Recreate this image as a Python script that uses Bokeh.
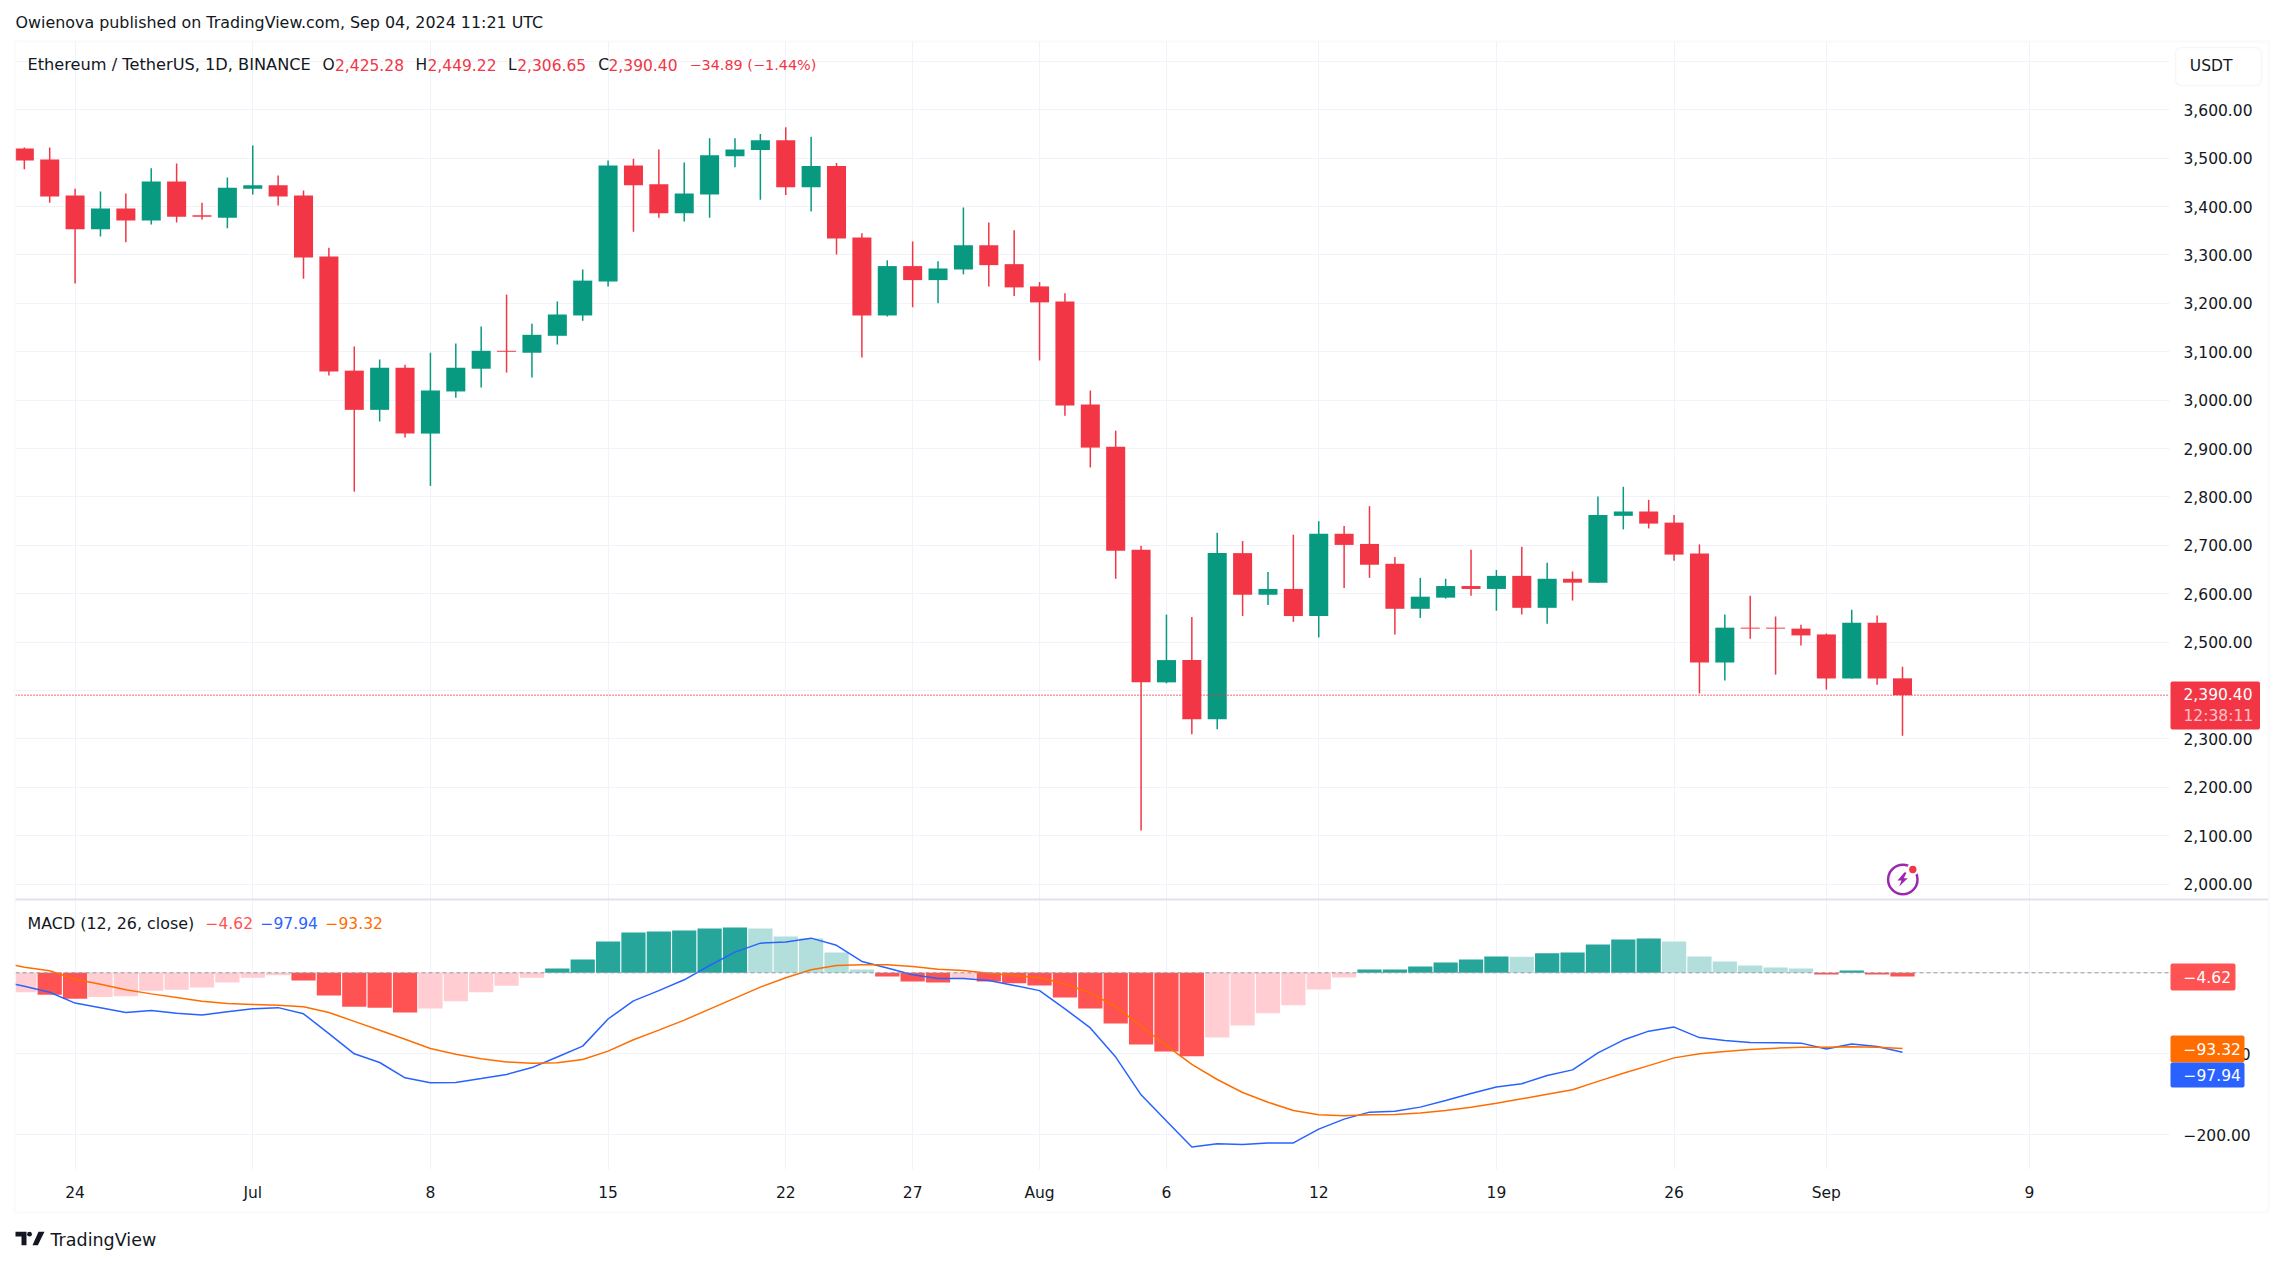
from bokeh.plotting import figure
from bokeh.layouts import column
from bokeh.embed import file_html
from bokeh.resources import INLINE
from bokeh.models import FixedTicker, Label, BoxAnnotation, Span, GridBox, ColumnDataSource

# ---------- data ----------
days = list(range(-2, 73))
opens = [3520,3497,3423,3353,3396,3371,3452,3382,3377,3437,3444,3423,3297,3061,2980,3067,2931,3018,3065,3102,3098,3133,3175,3245,3485,3446,3386,3425,3504,3517,3537,3440,3484,3336,3175,3277,3248,3270,3320,3281,3235,3204,2991,2904,2691,2417,2463,2341,2684,2598,2610,2554,2724,2703,2662,2569,2592,2616,2610,2637,2571,2631,2623,2761,2770,2747,2683,2458,2530,2530,2528,2516,2425,2540,2425.28]
closes = [3495,3421,3353,3396,3371,3452,3379,3379,3439,3444,3421,3295,3059,2980,3067,2931,3020,3067,3102,3100,3135,3177,3247,3485,3444,3386,3427,3506,3518,3537,3440,3484,3334,3175,3277,3248,3272,3320,3279,3233,3202,2989,2902,2689,2417,2463,2341,2684,2598,2610,2554,2724,2701,2660,2569,2594,2616,2610,2637,2571,2631,2623,2763,2770,2745,2681,2458,2530,2528,2528,2514,2425,2540,2425,2390.40]
highs = [3522,3522,3437,3431,3427,3479,3489,3408,3460,3526,3464,3433,3315,3111,3084,3073,3098,3117,3152,3218,3158,3204,3270,3495,3499,3518,3491,3541,3541,3550,3564,3544,3490,3345,3289,3328,3287,3398,3367,3351,3244,3221,3020,2937,2699,2557,2552,2726,2709,2645,2722,2750,2740,2781,2676,2633,2631,2691,2649,2697,2664,2646,2801,2821,2794,2763,2702,2557,2596,2553,2536,2518,2567,2555,2449.22]
lows = [3477,3408,3241,3338,3326,3363,3367,3373,3355,3425,3402,3251,3051,2811,2956,2923,2823,3005,3026,3057,3047,3115,3164,3235,3348,3377,3369,3377,3481,3414,3424,3390,3301,3088,3173,3192,3200,3260,3235,3215,3082,2968,2861,2631,2111,2415,2310,2320,2554,2577,2542,2510,2612,2633,2516,2550,2590,2596,2565,2557,2538,2586,2623,2733,2735,2668,2394,2421,2507,2433,2493,2402,2425,2412,2306.65]
hist = [-24,-27,-32,-30,-29,-22,-21,-18,-12,-6,-3,-9.5,-28,-42,-43,-49,-44,-35,-24,-16,-6,5.3,16.5,38.7,49.8,51,52.3,54.7,56,54.7,44.9,42.4,25,4,-4.5,-10.7,-12,-7,-10.7,-13,-15.6,-30.5,-44,-62.6,-88.5,-97,-103,-80,-65,-50,-40,-20.6,-5.8,4,4,7.8,12.8,16.5,20,19.8,24,25,35,41,42.4,38.7,20,14,9,6.6,5.3,-2,3,-2,-4.62]
line_days = list(range(-3, 73))
macd = [-10,-16.5,-24,-37.4,-43,-49,-46.5,-50,-52,-48,-44.4,-43,-50.6,-75,-100,-110.7,-129.6,-135.8,-135.4,-130.5,-125.5,-117,-104,-90.5,-57,-34.6,-22,-8.6,9,25.5,36.6,38,42.8,34,14,6,-2.5,-7,-7,-9.5,-15.6,-22,-44.4,-68,-104,-150.6,-183,-215,-211,-212,-210,-210,-193,-180.6,-172,-170.8,-165.8,-157.6,-149,-141,-137,-126.7,-119.8,-98.8,-83,-72,-67,-80,-83.5,-86,-86.4,-86.8,-94,-88,-91,-97.94]
signal = [13,7,2.5,-8,-14,-21,-26,-30.5,-35,-38,-39,-40,-42,-49,-60,-71,-82,-93.4,-100.4,-106,-110,-111.5,-111,-107,-96.7,-82.7,-70.8,-58.4,-44.8,-31.3,-17.7,-6,3.7,9,9.9,9.9,7.8,4.5,3,-0.4,-3.3,-6,-13.6,-25,-41.6,-66,-90,-113,-131.7,-147.7,-159.7,-170,-175.3,-176.5,-175.3,-175,-173,-170,-166,-161,-155.5,-150,-144.4,-134,-124,-114.6,-105,-100,-97,-94.7,-93,-91.8,-91.8,-91.4,-91.8,-93.32]
last_price = 2390.40

price_ticks = list(range(2000, 3700, 100))
price_grid_extra = [3700]
macd_ticks = [0, -100, -200]
time_ticks = [0, 7, 14, 21, 28, 33, 38, 43, 49, 56, 63, 69, 77]
time_labels = ["24", "Jul", "8", "15", "22", "27", "Aug", "6", "12", "19", "26", "Sep", "9"]

# ---------- style ----------
FONT = "DejaVu Sans"
FS = "15.5px"
INK = "#131722"
UP, DOWN = "#089981", "#f23645"
GRID, FRAME = "#f0f3fa", "#e0e3eb"
H_UP, H_UP_L, H_DN, H_DN_L = "#26a69a", "#b2dfdb", "#ff5252", "#ffcdd2"
BLUE, ORANGE = "#2962ff", "#ff6d00"
PURPLE = "#9c27b0"
X_RANGE = (-2.348, 82.52)
W, H = 2275, 1260


def make_fig(top, bottom, frame_h, y_range, axis):
    p = figure(frame_width=2154, frame_height=frame_h, x_range=X_RANGE, y_range=y_range,
               output_backend="svg", toolbar_location=None, min_border_left=15,
               min_border_right=W - 2169, min_border_top=top, min_border_bottom=bottom,
               y_axis_location="right", x_axis_location="below" if axis else None,
               background_fill_color="white", border_fill_color="white")
    p.outline_line_color = None
    p.xgrid.ticker = FixedTicker(ticks=time_ticks)
    p.xgrid.grid_line_color = GRID
    p.ygrid.grid_line_color = GRID
    p.yaxis.axis_line_color = None
    p.yaxis.major_tick_line_color = None
    p.yaxis.minor_tick_line_color = None
    p.yaxis.major_label_text_font = FONT
    p.yaxis.major_label_text_font_size = FS
    p.yaxis.major_label_text_color = INK
    p.yaxis.major_label_standoff = 8
    return p


# ---------- price pane ----------
p1 = make_fig(41, 0, 858, (1968.4, 3741), False)
p1.yaxis.ticker = FixedTicker(ticks=price_ticks)
p1.yaxis.major_label_overrides = {t: f"{t:,.2f}" for t in price_ticks}
p1.ygrid.ticker = FixedTicker(ticks=price_ticks + price_grid_extra)

colors = [UP if c >= o else DOWN for o, c in zip(opens, closes)]
src = ColumnDataSource(dict(d=days, o=opens, c=closes, h=highs, l=lows, col=colors))
p1.segment("d", "h", "d", "l", source=src, line_color="col", line_width=1.5)
p1.vbar("d", 0.75, "o", "c", source=src, fill_color="col", line_color=None)
p1.add_layout(Span(location=last_price, dimension="width", line_color=DOWN,
                   line_width=1.3, line_dash="1 2"))

# ---------- MACD pane ----------
p2 = make_fig(0, H - 1169, 270, (-242.8, 90.5), True)
p2.yaxis.ticker = FixedTicker(ticks=macd_ticks)
p2.yaxis.major_label_overrides = {0: "0.00", -100: "\u2212100.00", -200: "\u2212200.00"}
p2.ygrid.ticker = FixedTicker(ticks=macd_ticks)
p2.xaxis.ticker = FixedTicker(ticks=time_ticks)
p2.xaxis.major_label_overrides = dict(zip(time_ticks, time_labels))
p2.xaxis.axis_line_color = None
p2.xaxis.major_tick_line_color = None
p2.xaxis.minor_tick_line_color = None
p2.xaxis.major_label_text_font = FONT
p2.xaxis.major_label_text_font_size = FS
p2.xaxis.major_label_text_color = INK
p2.xaxis.major_label_standoff = 8

hcol = []
for i, v in enumerate(hist):
    prev = hist[i - 1] if i else -30
    if v >= 0:
        hcol.append(H_UP if v >= prev else H_UP_L)
    else:
        hcol.append(H_DN if v <= prev else H_DN_L)
p2.vbar(days, 0.955, 0, hist, fill_color=hcol, line_color=None)
p2.add_layout(Span(location=0, dimension="width", line_color="#9598a1", line_width=1, line_dash="4 3"))
p2.line(line_days, macd, line_color=BLUE, line_width=1.5)
p2.line(line_days, signal, line_color=ORANGE, line_width=1.5)

# ---------- transparent page-sized layer: header, frame, price badges, logo ----------
ov = figure(frame_width=W, frame_height=H, x_range=(0, W), y_range=(H, 0), output_backend="svg",
            toolbar_location=None, min_border=0, x_axis_location=None, y_axis_location=None,
            background_fill_color=None, border_fill_color=None)
ov.outline_line_color = None
ov.grid.visible = False


def text(x, y, s, color=INK, size=FS):
    ov.add_layout(Label(x=x, y=y, text=s, text_color=color, text_font=FONT, text_font_size=size,
                        text_baseline="middle", text_align="left"))


def box(x0, x1, y0, y1, fill=None, line=None, radius=0, width=1):
    ov.add_layout(BoxAnnotation(left=x0, right=x1, top=y0, bottom=y1,
                                fill_color=fill, fill_alpha=1 if fill else 0,
                                line_color=line, line_width=width, border_radius=radius))


text(15, 22, "Owienova published on TradingView.com, Sep 04, 2024 11:21 UTC", INK, "15.9px")
text(27, 64, "Ethereum / TetherUS, 1D, BINANCE", INK, "16.2px")
for x, s, col in [(322, "O", INK), (334.5, "2,425.28", DOWN), (415, "H", INK), (427, "2,449.22", DOWN),
                  (507.5, "L", INK), (516.7, "2,306.65", DOWN), (597.7, "C", INK),
                  (608, "2,390.40", DOWN)]:
    text(x, 64, s, col)
text(689, 64, "\u221234.89 (\u22121.44%)", DOWN, "14.4px")

box(14.5, 2268, 41, 1212, line=GRID, width=2.5)
ov.segment([15], [899], [2268], [899], line_color=FRAME, line_width=2)

box(2175, 2261, 47, 85, fill="white", line=FRAME, radius=6, width=1.5)
text(2189.3, 65, "USDT")
box(2170, 2259.5, 681, 729, fill=DOWN, radius=2)
text(2183, 693, "2,390.40", "white")
text(2183, 715, "12:38:11", "#ffc2c8")

text(27, 922.7, "MACD (12, 26, close)", INK, "15.9px")
text(205, 922.7, "\u22124.62", H_DN)
text(260, 922.7, "\u221297.94", BLUE)
text(325, 922.7, "\u221293.32", ORANGE)
box(2170, 2235, 963, 990, fill=H_DN, radius=2)
text(2183, 976.5, "\u22124.62", "white")
box(2170, 2244, 1035, 1062, fill=ORANGE, radius=2)
text(2183, 1048.5, "\u221293.32", "white")
box(2170, 2244, 1062, 1087, fill=BLUE, radius=2)
text(2183, 1074.5, "\u221297.94", "white")

# reversal-alert icon
ov.circle([1902.3], [879], radius=14.7, fill_color=None, line_color=PURPLE, line_width=2.5)
ov.circle([1912.3], [869], radius=6, fill_color="white", line_color=None)
ov.circle([1912.3], [869], radius=3.7, fill_color=DOWN, line_color=None)
ov.patch([1904, 1897, 1901, 1898.7, 1907.3, 1903.3, 1906], [871.7, 880, 880, 886, 877.7, 877.7, 872.3],
         fill_color=PURPLE, line_color=None)

# TradingView logo
ov.patch([15, 26, 26, 21, 21, 15], [1231.3, 1231.3, 1244.7, 1244.7, 1236, 1236], fill_color=INK, line_color=None)
ov.circle([29], [1233.7], radius=2.4, fill_color=INK, line_color=None)
ov.patch([32, 38, 44, 37.3], [1244.7, 1231.3, 1231.3, 1244.7], fill_color=INK, line_color=None)
text(50, 1239, "TradingView", INK, "17.5px")

panes = column(p1, p2, spacing=0)
layout = GridBox(children=[(panes, 0, 0), (ov, 0, 0)], spacing=0)
open("out.html", "w").write(file_html(layout, INLINE))
